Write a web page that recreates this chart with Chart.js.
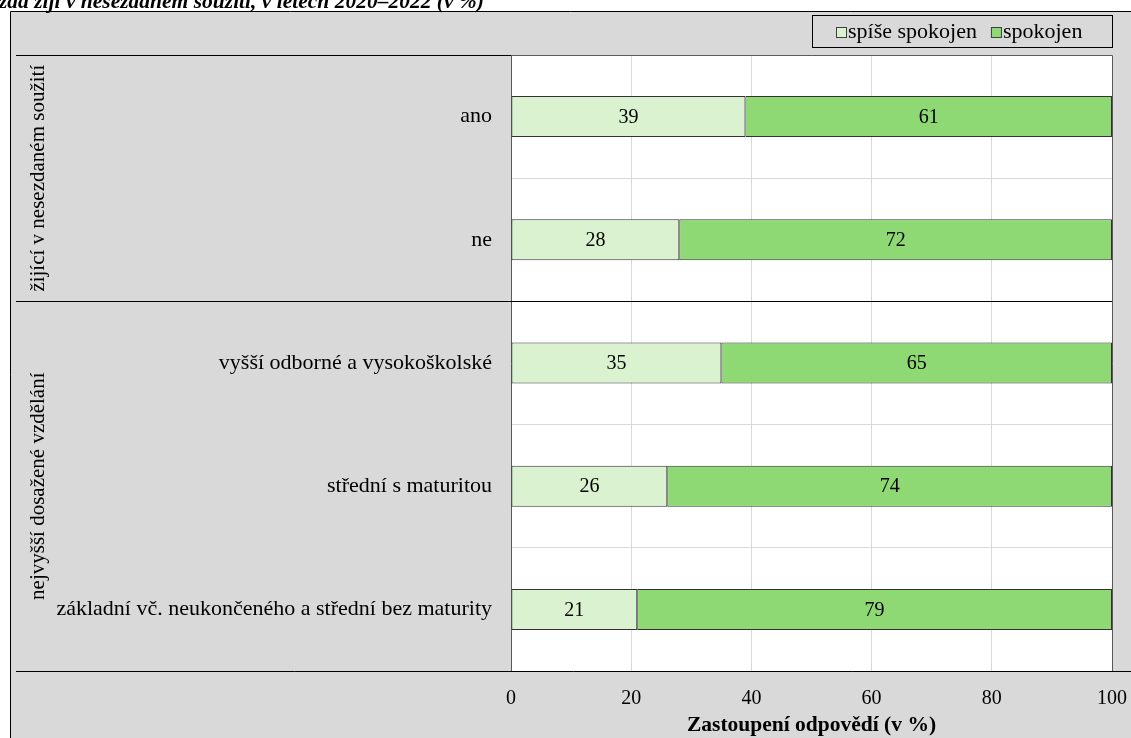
<!DOCTYPE html>
<html>
<head>
<meta charset="utf-8">
<script src="https://cdn.jsdelivr.net/npm/chart.js@4.4.1/dist/chart.umd.min.js"></script>
<style>
  body { margin: 0; background: #fff; overflow: hidden; }
  #wrap { position: relative; width: 1131px; height: 738px; }
  #chart { position: absolute; left: 0; top: 0; }
  #title {
    position: absolute; left: -1px; top: -11px; white-space: nowrap;
    font: italic bold 21.5px "Liberation Serif", serif; color: #000;
  }
</style>
</head>
<body>
<div id="wrap">
  <canvas id="chart" width="1131" height="738"></canvas>
  <div id="title">zda žijí v nesezdaném soužití, v letech 2020–2022 (v %)</div>
</div>
<script>
// --- data ---
const categories = ['ano', 'ne', 'vyšší odborné a vysokoškolské', 'střední s maturitou', 'základní vč. neukončeného a střední bez maturity'];
const groups = [
  { label: 'žijící v nesezdaném soužití', from: 0, to: 1 },
  { label: 'nejvyšší dosažené vzdělání', from: 2, to: 4 }
];
const spiseSpokojen = [39, 28, 35, 26, 21];
const spokojen = [61, 72, 65, 74, 79];
const xTicks = [0, 20, 40, 60, 80, 100];

const FONT = '"Liberation Serif", "Times New Roman", serif';
const GRID = '#d9d9d9';
const FRAME = '#595959';

// background, frame, plot area
const backdrop = {
  id: 'backdrop',
  beforeDraw(chart) {
    const { ctx, chartArea: a } = chart;
    ctx.save();
    ctx.fillStyle = '#d9d9d9';
    ctx.fillRect(10, 11, chart.width - 10, chart.height - 11);
    ctx.strokeStyle = '#000';
    ctx.lineWidth = 1;
    ctx.beginPath();
    ctx.moveTo(10.5, chart.height); ctx.lineTo(10.5, 11.5); ctx.lineTo(chart.width, 11.5);
    ctx.stroke();
    ctx.fillStyle = '#fff';
    ctx.fillRect(a.left, a.top, a.right - a.left, a.bottom - a.top);
    ctx.restore();
  }
};

// group labels, separators, legend box, data labels
const overlay = {
  id: 'overlay',
  afterDatasetsDraw(chart) {
    const { ctx, chartArea: a } = chart;
    const y = chart.scales.y;
    ctx.save();
    // data labels
    ctx.font = '20px ' + FONT;
    ctx.fillStyle = '#000';
    ctx.textAlign = 'center';
    ctx.textBaseline = 'middle';
    chart.data.datasets.forEach((ds, i) => {
      chart.getDatasetMeta(i).data.forEach((bar, j) => {
        const c = bar.getCenterPoint();
        ctx.fillText(String(ds.data[j]), c.x, c.y + 1);
      });
    });
    // plot border top/right
    ctx.strokeStyle = FRAME;
    ctx.lineWidth = 1;
    ctx.beginPath();
    ctx.moveTo(a.left, Math.round(a.top) + 0.5); ctx.lineTo(Math.round(a.right) + 0.5, Math.round(a.top) + 0.5);
    ctx.lineTo(Math.round(a.right) + 0.5, a.bottom);
    ctx.stroke();
    // group separators + labels
    const half = (y.getPixelForValue(1) - y.getPixelForValue(0)) / 2;
    ctx.strokeStyle = '#000';
    const edges = [a.top];
    groups.forEach(g => edges.push(y.getPixelForValue(g.to) + half));
    edges.forEach((e, k) => {
      const yy = Math.round(e) + 0.5;
      ctx.beginPath();
      ctx.moveTo(16, yy);
      ctx.lineTo(k === 0 ? a.left : (k === edges.length - 1 ? chart.width : a.right), yy);
      ctx.stroke();
    });
    ctx.font = '21px ' + FONT;
    groups.forEach(g => {
      const cy = (y.getPixelForValue(g.from) + y.getPixelForValue(g.to)) / 2;
      ctx.save();
      ctx.translate(38, cy);
      ctx.rotate(-Math.PI / 2);
      ctx.textAlign = 'center';
      ctx.textBaseline = 'middle';
      ctx.fillText(g.label, 0, 0);
      ctx.restore();
    });
    // legend
    const lx = 812, ly = 15, lw = Math.round(a.right) - 812, lh = 32;
    ctx.strokeStyle = '#000';
    ctx.strokeRect(lx + 0.5, ly + 0.5, lw, lh);
    ctx.font = '22px ' + FONT;
    ctx.textAlign = 'left';
    ctx.textBaseline = 'middle';
    let x = lx + 24;
    const cyL = ly + lh / 2 + 1;
    chart.data.datasets.forEach(ds => {
      ctx.fillStyle = ds.backgroundColor;
      ctx.fillRect(x, cyL - 5, 11, 11);
      ctx.strokeStyle = '#404040';
      ctx.strokeRect(x + 0.5, cyL - 5 + 0.5, 10, 10);
      ctx.fillStyle = '#000';
      ctx.fillText(ds.label, x + 12, cyL);
      x += 12 + ctx.measureText(ds.label).width + 14;
    });
    ctx.restore();
  }
};

new Chart(document.getElementById('chart'), {
  type: 'bar',
  data: {
    labels: categories,
    datasets: [
      { label: 'spíše spokojen', data: spiseSpokojen, backgroundColor: '#daf2d0', borderColor: '#333', borderWidth: 1, borderSkipped: false },
      { label: 'spokojen', data: spokojen, backgroundColor: '#8ed973', borderColor: '#333', borderWidth: 1, borderSkipped: false }
    ]
  },
  options: {
    indexAxis: 'y',
    responsive: false,
    devicePixelRatio: 1,
    animation: false,
    layout: { padding: { top: 55, right: 19, left: 0, bottom: 0 } },
    datasets: { bar: { categoryPercentage: 1, barPercentage: 0.333 } },
    plugins: { legend: { display: false }, tooltip: { enabled: false } },
    scales: {
      x: {
        stacked: true, min: 0, max: 100,
        afterBuildTicks: s => { s.ticks = xTicks.map(v => ({ value: v })); },
        afterFit: s => { s.height = 67; },
        grid: { color: GRID, drawTicks: true, tickLength: 16, tickColor: 'rgba(0,0,0,0)' },
        border: { display: false },
        ticks: { padding: 0, color: '#000', font: { family: FONT, size: 20 } },
        title: { display: true, text: 'Zastoupení odpovědí (v %)', color: '#000', padding: { top: 0, bottom: 0 }, font: { family: FONT, size: 21.5, weight: 'bold' } }
      },
      y: {
        stacked: true,
        afterFit: s => { s.width = 511; },
        grid: { color: GRID, offset: true, drawTicks: false },
        border: { color: FRAME, width: 1 },
        ticks: { padding: 19, color: '#000', font: { family: FONT, size: 22 } }
      }
    }
  },
  plugins: [backdrop, overlay]
});
</script>
</body>
</html>
